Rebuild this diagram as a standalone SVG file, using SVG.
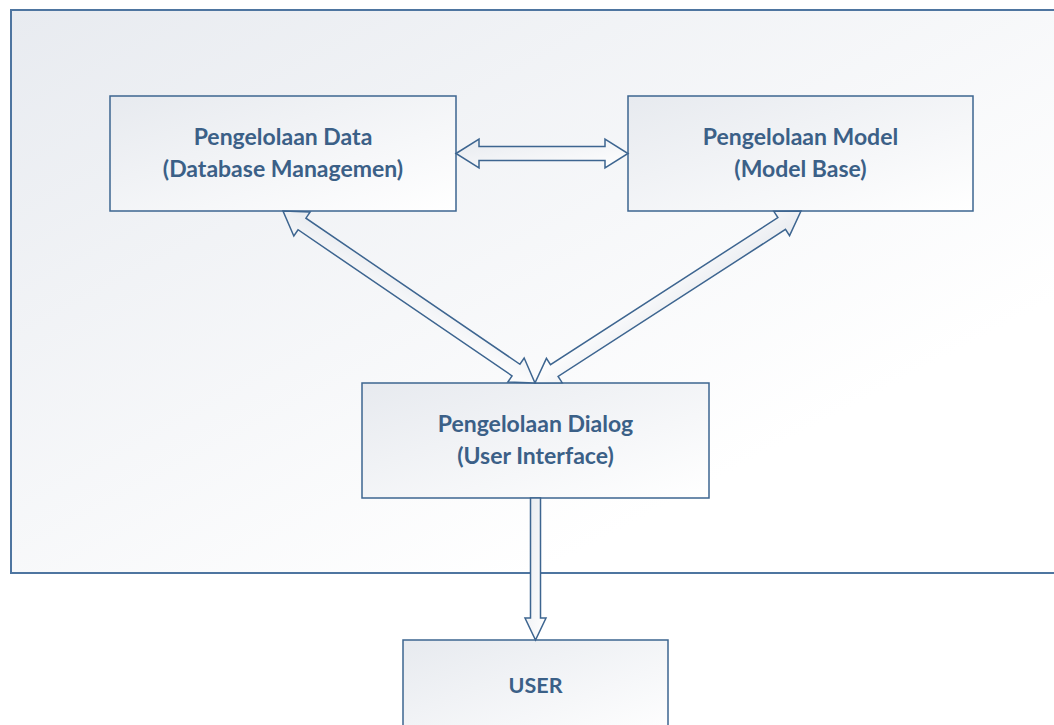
<svg xmlns="http://www.w3.org/2000/svg" width="1054" height="725" viewBox="0 0 1054 725">
  <defs>
    <linearGradient id="fillGrad" x1="0" y1="0" x2="1" y2="1">
      <stop offset="0" stop-color="#e7eaef"/>
      <stop offset="1" stop-color="#ffffff"/>
    </linearGradient>
    <linearGradient id="frameGrad" x1="0" y1="0" x2="1" y2="1">
      <stop offset="0" stop-color="#e8ebf0"/>
      <stop offset="0.75" stop-color="#ffffff"/>
      <stop offset="1" stop-color="#ffffff"/>
    </linearGradient>
    <style>
      .frame { fill: url(#frameGrad); stroke: #4e75a0; stroke-width: 2; }
      .box { fill: url(#fillGrad); stroke: #3d6590; stroke-width: 1.5; }
      .arrow { fill: url(#fillGrad); stroke: #3d6590; stroke-width: 1.5; stroke-linejoin: miter; }
      .label { font-family: Lato, "Liberation Sans", sans-serif; font-weight: 700; font-size: 23px; fill: #3b6087; text-anchor: middle; }
      .small { font-size: 21.5px; }
    </style>
  </defs>

  <rect width="1054" height="725" fill="#ffffff"/>

  <!-- system boundary -->
  <rect class="frame" x="11" y="10" width="1060" height="563"/>

  <g id="data">
    <rect class="box" x="110" y="96" width="346" height="115"/>
    <text class="label" x="283" y="145">Pengelolaan Data</text>
    <text class="label" x="283" y="177">(Database Managemen)</text>
  </g>

  <g id="model">
    <rect class="box" x="628" y="96" width="345" height="115"/>
    <text class="label" x="800.5" y="145">Pengelolaan Model</text>
    <text class="label" x="800.5" y="177">(Model Base)</text>
  </g>

  <g id="dialog">
    <rect class="box" x="362" y="383" width="347" height="115"/>
    <text class="label" x="535.5" y="432">Pengelolaan Dialog</text>
    <text class="label" x="535.5" y="464">(User Interface)</text>
  </g>

  <g id="user">
    <rect class="box" x="403" y="640" width="265" height="100"/>
    <text class="label small" x="535.5" y="693">USER</text>
  </g>

  <g id="connectors">
    <!-- data <-> model -->
    <polygon class="arrow" points="456,153.5 479,139 479,146.5 605,146.5 605,139 628,153.5 605,168 605,160.5 479,160.5 479,168"/>
    <!-- data <-> dialog -->
    <polygon class="arrow" transform="translate(283,211) rotate(34.32)" points="0,0 23,-14.5 23,-7 282.1,-7 282.1,-14.5 305.1,0 282.1,14.5 282.1,7 23,7 23,14.5"/>
    <!-- model <-> dialog -->
    <polygon class="arrow" transform="translate(801,211) rotate(147.11)" points="0,0 23,-14.5 23,-7 293.8,-7 293.8,-14.5 316.8,0 293.8,14.5 293.8,7 23,7 23,14.5"/>
    <!-- dialog -> user -->
    <polygon class="arrow" points="530.5,498 540.5,498 540.5,618 546,618 535.5,640 525,618 530.5,618"/>
  </g>
</svg>
